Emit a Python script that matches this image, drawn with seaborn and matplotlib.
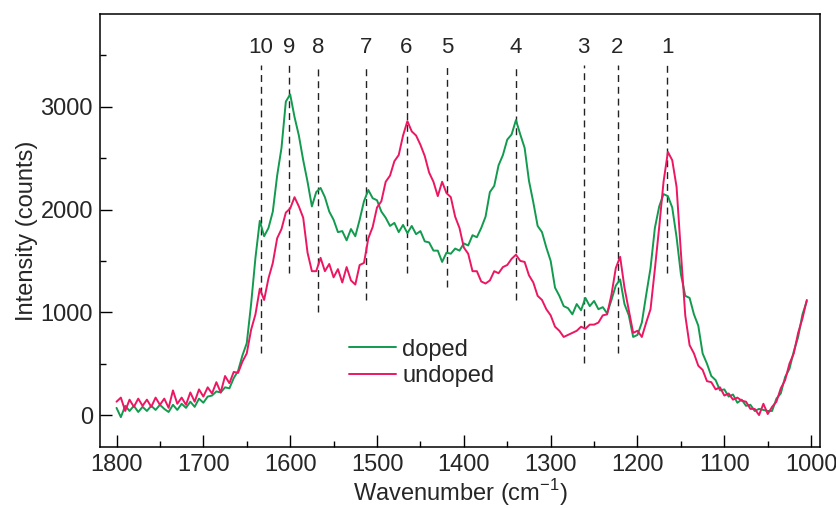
import numpy as np
import pandas as pd
import matplotlib
matplotlib.use("Agg")
import matplotlib.pyplot as plt
from matplotlib.ticker import MultipleLocator
import seaborn as sns

# Raman spectra, every 5 cm-1 (1800 -> 1005)
wavenumber = np.arange(1800, 1000, -5)

doped = [
    70, -20, 90, 40, 90, 30, 80, 40, 90, 50,
    100, 60, 30, 100, 50, 110, 70, 130, 80, 160,
    120, 180, 190, 230, 220, 270, 260, 360, 430, 580,
    700, 1080, 1530, 1890, 1740, 1820, 1980, 2330, 2600, 3050,
    3120, 2900, 2720, 2480, 2270, 2030, 2170, 2210, 2120, 1980,
    1900, 1780, 1790, 1700, 1810, 1740, 1900, 2080, 2190, 2110,
    2090, 1980, 1920, 1840, 1870, 1780, 1850, 1770, 1840, 1760,
    1790, 1690, 1680, 1600, 1600, 1490, 1580, 1570, 1620, 1600,
    1670, 1650, 1750, 1730, 1820, 1930, 2170, 2230, 2430, 2530,
    2680, 2730, 2870, 2730, 2600, 2280, 2070, 1840, 1780, 1630,
    1500, 1240, 1160, 1060, 1040, 980, 1080, 1020, 1140, 1060,
    1110, 1030, 1050, 990, 1120, 1260, 1320, 1080, 970, 760,
    780, 900, 1170, 1430, 1820, 2030, 2150, 2130, 2020, 1730,
    1370, 1160, 1140, 980, 870, 600, 500, 380, 340, 240,
    250, 180, 200, 120, 150, 90, 100, 40, 60, 50,
    40, 40, 160, 210, 370, 450, 620, 760, 980, 1110,
]

undoped = [
    130, 170, 40, 150, 80, 160, 90, 150, 80, 170,
    100, 160, 70, 240, 110, 170, 100, 220, 130, 250,
    180, 270, 210, 320, 220, 380, 310, 420, 410, 520,
    600, 830, 980, 1230, 1120, 1330, 1480, 1720, 1810, 1970,
    2010, 2120, 2030, 1920, 1580, 1400, 1400, 1530, 1400, 1470,
    1340, 1420, 1290, 1440, 1310, 1270, 1460, 1480, 1720, 1830,
    2020, 2080, 2270, 2330, 2470, 2530, 2720, 2860, 2760, 2720,
    2630, 2520, 2360, 2270, 2130, 2270, 2160, 2120, 1930, 1820,
    1630, 1570, 1400, 1400, 1300, 1280, 1310, 1400, 1380, 1440,
    1460, 1520, 1560, 1500, 1490, 1360, 1290, 1160, 1120, 1030,
    970, 860, 820, 760, 780, 800, 820, 860, 840, 880,
    880, 900, 970, 980, 1170, 1430, 1540, 1240, 1020, 800,
    820, 760, 900, 1030, 1420, 1830, 2270, 2560, 2480, 2220,
    1580, 970, 680, 600, 480, 440, 330, 320, 250, 270,
    190, 210, 150, 170, 140, 130, 60, 60, 0, 110,
    10, 80, 130, 260, 340, 500, 600, 800, 940, 1120,
]

# band markers
band_labels = ["10", "9", "8", "7", "6", "5", "4", "3", "2", "1"]
band_pos = [1634, 1601, 1568, 1513, 1466, 1419, 1340, 1262, 1223, 1166]
band_bottom = [603, 1380, 1003, 1118, 1380, 1245, 1118, 505, 603, 1380]
band_top = 3405
label_y = 3580

sns.set_style("white")
plt.rcParams["font.family"] = ["Liberation Sans", "DejaVu Sans"]
plt.rcParams["mathtext.fontset"] = "custom"
plt.rcParams["mathtext.rm"] = "Liberation Sans"

df = pd.concat([
    pd.DataFrame({"wavenumber": wavenumber, "intensity": doped, "sample": "doped"}),
    pd.DataFrame({"wavenumber": wavenumber, "intensity": undoped, "sample": "undoped"}),
])

fig = plt.figure(figsize=(8.37, 5.08), dpi=100)
ax = fig.add_axes([0.1195, 0.12, 0.860, 0.852])

sns.lineplot(data=df, x="wavenumber", y="intensity", hue="sample",
             palette={"doped": "#129a4e", "undoped": "#ec1662"},
             linewidth=1.4, sort=False, ax=ax)

for lab, xp, yb in zip(band_labels, band_pos, band_bottom):
    ax.plot([xp, xp], [yb, band_top], color="#222222", lw=1.0,
            dashes=(5, 3.5), zorder=1)
    ax.text(xp, label_y, lab, ha="center", va="center", fontsize=16)

ax.set_xlim(1819, 990)
ax.set_ylim(-311, 3900)
ax.set_yticks([0, 1000, 2000, 3000])
ax.xaxis.set_major_locator(MultipleLocator(100))
ax.xaxis.set_minor_locator(MultipleLocator(50))
ax.yaxis.set_minor_locator(MultipleLocator(500))
ax.tick_params(which="major", direction="in", length=8.5, width=1.0,
               labelsize=17, pad=5, color="black")
ax.tick_params(which="minor", direction="in", length=4, width=1.0, color="black")
ax.tick_params(axis="x", which="both", bottom=True)
ax.tick_params(axis="y", which="both", left=True)

for s in ax.spines.values():
    s.set_visible(True)
    s.set_color("black")
    s.set_linewidth(1.1)

ax.set_xlabel(r"Wavenumber (cm$^{-1}$)", fontsize=17, labelpad=1)
ax.set_ylabel("Intensity (counts)", fontsize=17, labelpad=2)

leg = ax.legend(loc="center left", bbox_to_anchor=(0.346, 0.194), frameon=False,
                fontsize=17, handlelength=2.0, handletextpad=0.25,
                labelspacing=0.2, borderpad=0, borderaxespad=0, title=None)

fig.savefig("out.png", dpi=100)
